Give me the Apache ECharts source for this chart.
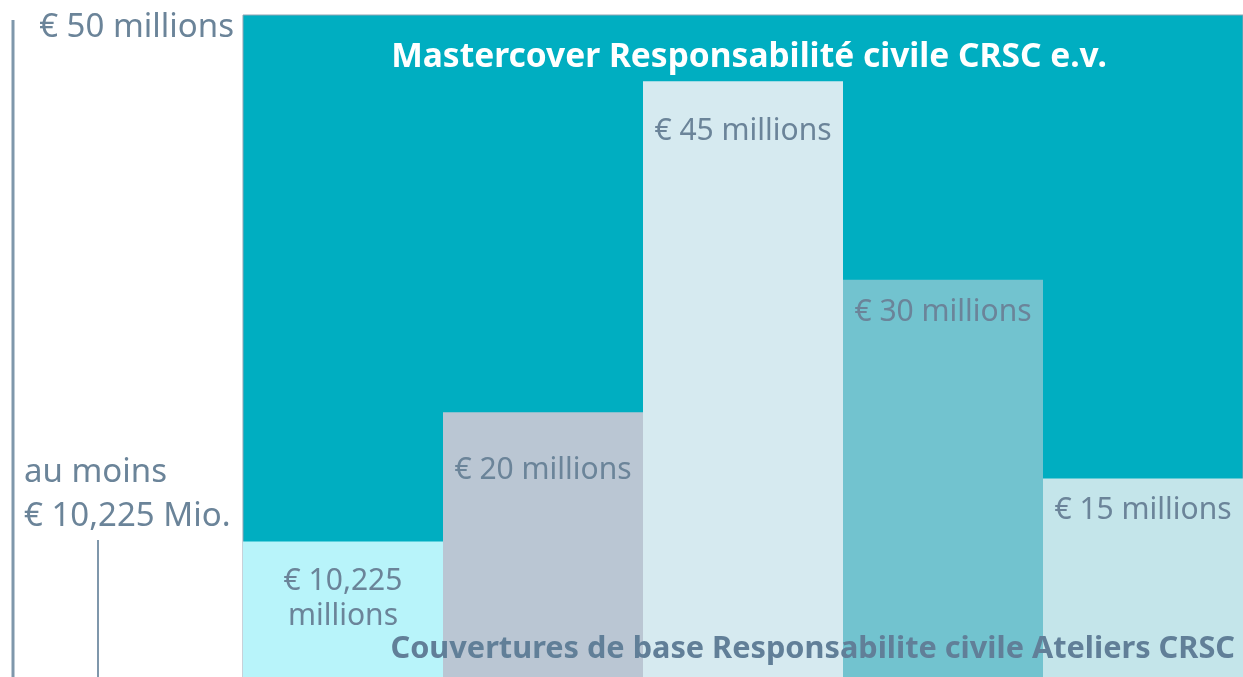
<!DOCTYPE html>
<html>
<head>
<meta charset="utf-8">
<script src="https://cdn.jsdelivr.net/npm/echarts@6/dist/echarts.min.js"></script>
<style>html,body{margin:0;padding:0;background:#fff;}#c{width:1243px;height:677px;}</style>
</head>
<body>
<div id="c"></div>
<script>
// Data
const categories = ['Base 1', 'Base 2', 'Base 3', 'Base 4', 'Base 5'];
const values = [10.225, 20, 45, 30, 15];
const valueLabels = ['€ 10,225\nmillions', '€ 20 millions', '€ 45 millions', '€ 30 millions', '€ 15 millions'];
const axisMax = 50;
const topLabel = '€ 50 millions';
const minLabel = 'au moins\n€ 10,225 Mio.';
const titleTop = 'Mastercover Responsabilité civile CRSC e.v.';
const titleBottom = 'Couvertures de base Responsabilite civile Ateliers CRSC';

// Styles
const barColors = ['#b8f4fa', '#bac6d3', '#d6eaf0', '#72c3cf', '#c4e5ea'];
const labelGaps = [22, 41, 33, 15, 15];
const textColor = '#6b8499';
const font = "'Noto Sans', 'Open Sans', sans-serif";

const chart = echarts.init(document.getElementById('c'));
chart.setOption({
  animation: false,
  title: [
    {
      text: titleTop, left: 744, top: 35, textAlign: 'center',
      textStyle: { color: '#ffffff', fontSize: 33.5, fontWeight: 'bold', fontFamily: font }
    },
    {
      text: titleBottom, right: 3, top: 629, z: 10,
      textStyle: { color: '#617f98', fontSize: 30.7, fontWeight: 'bold', fontFamily: font }
    }
  ],
  grid: {
    left: 243, right: 0, top: 15, bottom: 0,
    show: true, backgroundColor: '#00aec1', borderColor: '#8fa3b3', borderWidth: 1
  },
  xAxis: {
    type: 'category', data: categories, show: false
  },
  yAxis: {
    type: 'value', min: 0, max: axisMax, show: false
  },
  series: [{
    type: 'bar',
    barCategoryGap: '0%',
    data: values.map((v, i) => ({
      value: v,
      itemStyle: { color: barColors[i] },
      label: { distance: labelGaps[i] }
    })),
    label: {
      show: true,
      position: 'insideTop',
      formatter: p => valueLabels[p.dataIndex],
      color: textColor,
      fontSize: 30,
      lineHeight: 35,
      fontFamily: font,
      align: 'center'
    }
  }],
  graphic: [
    { type: 'line', shape: { x1: 13, y1: 20, x2: 13, y2: 677 }, style: { stroke: '#7f97ab', lineWidth: 3 } },
    { type: 'line', shape: { x1: 98, y1: 540, x2: 98, y2: 677 }, style: { stroke: '#7f97ab', lineWidth: 2 } },
    { type: 'text', right: 1243 - 234, top: 11, style: { text: topLabel, fill: textColor, font: "33px 'Noto Sans', sans-serif", textAlign: 'right' } },
    { type: 'text', left: 24, top: 451, style: { text: minLabel, fill: textColor, font: "33px 'Noto Sans', sans-serif", lineHeight: 44 } }
  ]
});
</script>
</body>
</html>
